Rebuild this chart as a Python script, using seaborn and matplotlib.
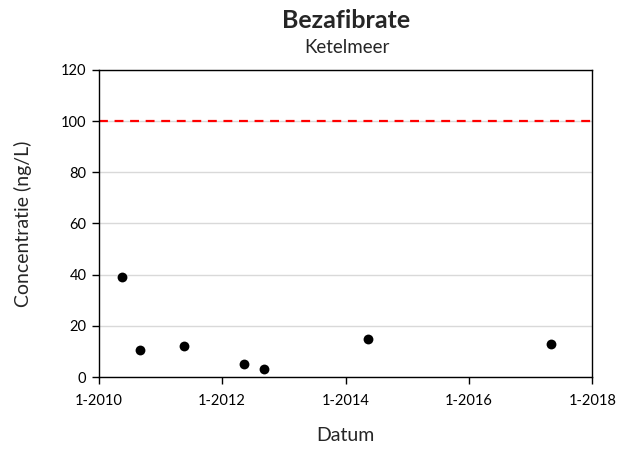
import matplotlib
matplotlib.use('Agg')
import matplotlib.pyplot as plt
import pandas as pd
import seaborn as sns

# Data
dates = ['2010-05-16', '2010-09-04', '2011-05-19', '2012-05-11',
         '2012-09-04', '2014-05-11', '2017-05-02']
concentration = [39.1, 10.5, 12.3, 4.9, 3.0, 14.8, 12.8]
norm_value = 100
tick_dates = ['2010-01-01', '2012-01-01', '2014-01-01', '2016-01-01', '2018-01-01']
tick_labels = ['1-2010', '1-2012', '1-2014', '1-2016', '1-2018']

df = pd.DataFrame({'datum': pd.to_datetime(dates), 'conc': concentration})

sns.set_style('white')
plt.rcParams['font.family'] = ['Lato', 'DejaVu Sans']

fig, ax = plt.subplots(figsize=(6.3, 4.51), dpi=100)
fig.subplots_adjust(left=0.157, right=0.940, top=0.845, bottom=0.164)

sns.scatterplot(data=df, x='datum', y='conc', ax=ax, color='black',
                s=50, edgecolor='black', linewidth=0, zorder=3)
ax.axhline(norm_value, color='#ff0000', linestyle=(0, (4, 3)), linewidth=1.6, zorder=2)

ax.set_ylim(0, 120)
ax.set_yticks(range(0, 121, 20))
ax.set_xlim(pd.Timestamp(tick_dates[0]), pd.Timestamp(tick_dates[-1]))
ax.set_xticks(pd.to_datetime(tick_dates))
ax.set_xticklabels(tick_labels)
ax.grid(axis='y', color='#d9d9d9', linewidth=1)
ax.set_axisbelow(True)

for s in ax.spines.values():
    s.set_visible(True)
    s.set_color('black')
    s.set_linewidth(1.0)
ax.tick_params(axis='both', direction='out', length=5, width=1, colors='black',
               labelsize=10.5, bottom=True, left=True, pad=4)
ax.tick_params(axis='x', pad=7)

ax.set_xlabel('Datum', fontsize=14, labelpad=14)
ax.set_ylabel('Concentratie (ng/L)', fontsize=14, labelpad=21)

fig.text(0.549, 0.955, 'Bezafibrate', ha='center', va='center',
         fontsize=18, fontweight='bold')
fig.text(0.551, 0.895, 'Ketelmeer', ha='center', va='center', fontsize=13.5)

plt.savefig('out.png', dpi=100)
